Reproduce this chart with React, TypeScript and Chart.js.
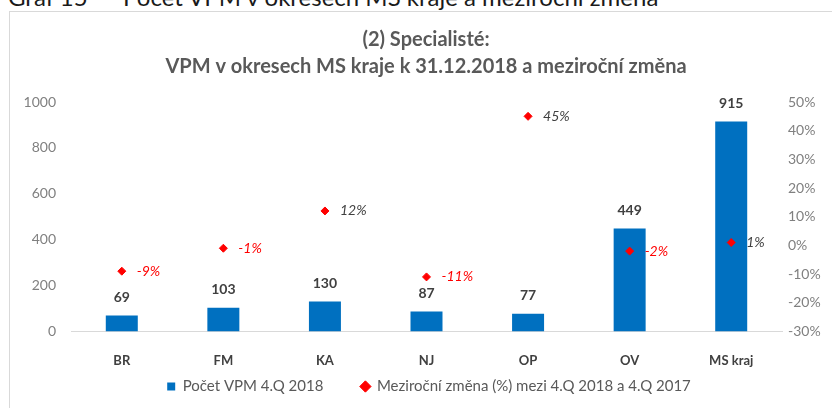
import React, { useEffect, useRef } from "react";
import { Chart, registerables } from "chart.js";

Chart.register(...registerables);

const categories = ["BR", "FM", "KA", "NJ", "OP", "OV", "MS kraj"];
const counts = [69, 103, 130, 87, 77, 449, 915];
const changes = [-9, -1, 12, -11, 45, -2, 1];
const leftTicks = [0, 200, 400, 600, 800, 1000];
const rightTicks = [-30, -20, -10, 0, 10, 20, 30, 40, 50];
const countLabel = "Počet VPM 4.Q 2018";
const changeLabel = "Meziroční změna (%) mezi 4.Q 2018 a 4.Q 2017";
const titleLines = ["(2) Specialisté:", "VPM v okresech MS kraje k 31.12.2018 a meziroční změna"];
const headerNo = "Graf 15";
const headerText = "Počet VPM v okresech MS kraje a meziroční změna";

const FONT = "Lato, 'Open Sans', sans-serif";

const labelPlugin = {
  id: "valueLabels",
  afterLayout(chart: any) {
    if (chart.legend) {
      chart.legend.top -= 50;
      chart.legend.bottom -= 50;
      chart.legend.left += 3;
      chart.legend.right += 3;
    }
  },
  afterDatasetsDraw(chart: any) {
    const ctx = chart.ctx;
    ctx.save();
    const barMeta = chart.getDatasetMeta(0);
    ctx.font = `bold 14px ${FONT}`;
    ctx.fillStyle = "#404040";
    ctx.textAlign = "center";
    ctx.textBaseline = "middle";
    barMeta.data.forEach((bar: any, i: number) => {
      ctx.fillText(String(counts[i]), bar.x, bar.y - 18);
    });
    const ptMeta = chart.getDatasetMeta(1);
    ctx.font = `italic 14px ${FONT}`;
    ctx.textAlign = "left";
    ptMeta.data.forEach((pt: any, i: number) => {
      const v = changes[i];
      ctx.fillStyle = v < 0 ? "#ff0000" : "#404040";
      ctx.fillText(`${v}%`, pt.x + 15, pt.y);
    });
    ctx.restore();
  },
};

export default function App() {
  const ref = useRef<HTMLCanvasElement | null>(null);
  useEffect(() => {
    if (!ref.current) return;
    const chart = new Chart(ref.current, {
      type: "bar",
      data: {
        labels: categories,
        datasets: [
          {
            type: "bar",
            label: countLabel,
            data: counts,
            backgroundColor: "#0070c0",
            borderWidth: 0,
            yAxisID: "y",
            categoryPercentage: 1,
            barPercentage: 0.315,
            pointStyle: "rect",
            order: 2,
          } as any,
          {
            type: "line",
            label: changeLabel,
            data: changes,
            yAxisID: "y1",
            showLine: false,
            pointStyle: "rectRot",
            pointRadius: 4,
            pointBackgroundColor: "#ff0000",
            pointBorderColor: "#ff0000",
            backgroundColor: "#ff0000",
            borderColor: "#ff0000",
            order: 1,
          } as any,
        ],
      },
      options: {
        animation: false,
        responsive: false,
        maintainAspectRatio: false,
        layout: { padding: { left: 0, right: 0, top: 0, bottom: -46 } },
        plugins: {
          tooltip: { enabled: false },
          title: {
            display: true,
            text: titleLines,
            color: "#595959",
            font: { family: FONT, size: 20, weight: "bold", lineHeight: 1.35 },
            padding: { top: 14.5, bottom: 21.5 },
          },
          legend: {
            position: "bottom",
            labels: {
              usePointStyle: true,
              boxWidth: 8,
              boxHeight: 8,
              padding: 38,
              color: "#595959",
              font: { family: FONT, size: 15 },
              sort: (a: any, b: any) => a.datasetIndex - b.datasetIndex,
            },
          },
        },
        scales: {
          x: {
            grid: { display: false, drawTicks: false },
            border: { display: true, color: "#d9d9d9" },
            ticks: { color: "#404040", font: { family: FONT, size: 13, weight: "bold" }, padding: 22 },
          },
          y: {
            position: "left",
            min: 0,
            max: 1000,
            afterBuildTicks(scale: any) {
              scale.ticks = leftTicks.map((v) => ({ value: v }));
            },
            grid: { display: false, drawTicks: false },
            border: { display: false },
            ticks: { color: "#808080", font: { family: FONT, size: 14 }, padding: 15, callback: (v: any) => String(v) },
            afterFit(scale: any) {
              scale.width = 51;
            },
          },
          y1: {
            position: "right",
            min: -30,
            max: 50,
            afterBuildTicks(scale: any) {
              scale.ticks = rightTicks.map((v) => ({ value: v }));
            },
            grid: { display: false, drawTicks: false },
            border: { display: false },
            ticks: {
              color: "#808080",
              font: { family: FONT, size: 14 },
              padding: 6,
              callback: (v: any) => `${v}%`,
            },
            afterFit(scale: any) {
              scale.width = 50;
            },
          },
        },
      } as any,
      plugins: [labelPlugin],
    });
    return () => chart.destroy();
  }, []);

  const headStyle: React.CSSProperties = {
    position: "absolute",
    top: -15,
    fontFamily: FONT,
    fontSize: 24,
    lineHeight: "24px",
    color: "#1a1a1a",
    whiteSpace: "nowrap",
  };

  return (
    <div style={{ position: "fixed", left: 0, top: 0, width: 832, height: 408, overflow: "hidden", background: "#fff" }}>
      <div
        style={{
          position: "absolute",
          left: 9,
          top: 11,
          width: 900,
          height: 500,
          border: "1px solid #d9d9d9",
          boxSizing: "border-box",
        }}
      />
      <div style={{ ...headStyle, left: 8 }}>{headerNo}</div>
      <div style={{ ...headStyle, left: 123 }}>{headerText}</div>
      <canvas ref={ref} width={812} height={396} style={{ position: "absolute", left: 20, top: 12, width: 812, height: 396 }} />
    </div>
  );
}
